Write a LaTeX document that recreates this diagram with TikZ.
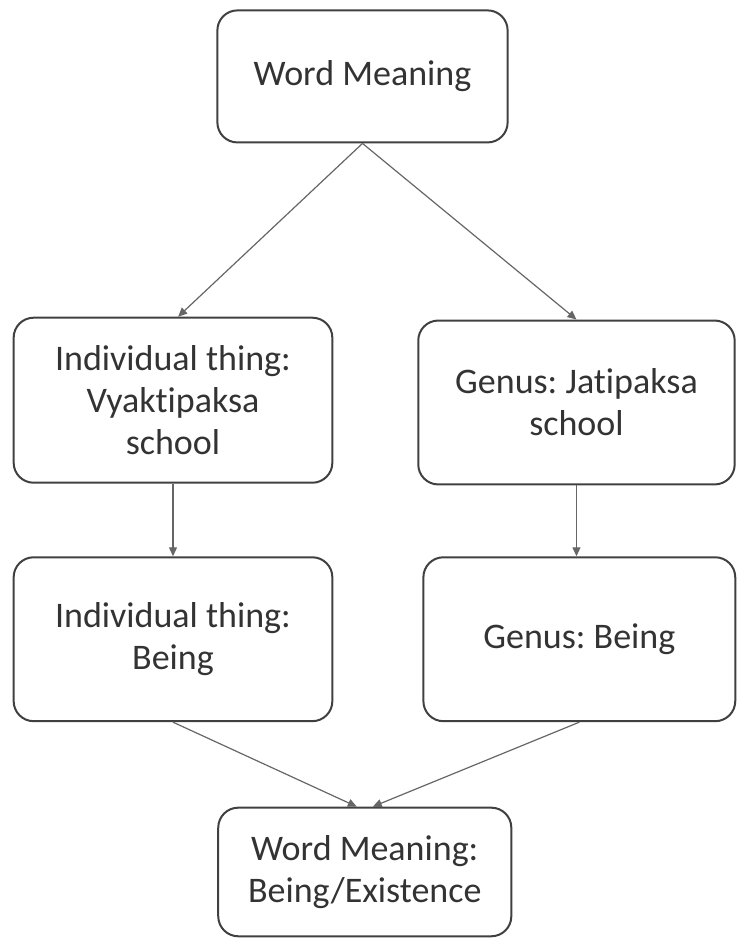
\documentclass[tikz,border=0pt]{standalone}
\usepackage{fontspec}
\setmainfont{Carlito}[Ligatures={NoCommon}]
\usepackage{tikz}
\usetikzlibrary{arrows.meta, positioning}
\frenchspacing

\begin{document}
\begin{tikzpicture}[
        box/.style={draw=black!75, line width=1pt, rounded corners=10pt, align=center,
            text=black!80, font=\fontsize{18}{21}\selectfont, inner sep=0pt},
        link/.style={draw=black!60, line width=0.6pt, -{Triangle[length=4.5pt, width=4pt]}}
    ]
    \useasboundingbox (0, 0) rectangle (12.934, 16.483);
    \node[box, minimum width=5.1cm, minimum height=2.32cm] (wm) at (6.37, 15.14) {Word Meaning};
    \node[box, minimum width=5.6cm, minimum height=2.9cm] (ind) at (3.04, 9.45) {Individual thing:\\Vyaktipaksa\\school};
    \node[box, minimum width=5.56cm, minimum height=2.88cm] (gen) at (10.13, 9.41) {Genus: Jatipaksa\\school};
    \node[box, minimum width=5.6cm, minimum height=2.88cm] (indb) at (3.04, 5.25) {Individual thing:\\Being};
    \node[box, minimum width=5.48cm, minimum height=2.88cm] (genb) at (10.18, 5.25) {Genus: Being};
    \node[box, minimum width=5.15cm, minimum height=2.26cm] (wmb) at (6.41, 1.16) {Word Meaning:\\Being/Existence};
    \draw
    (wm.south) edge[link] ([xshift=0.09cm]ind.north)
    (wm.south) edge[link] (gen.north)
    (ind.south) edge[link] (indb.north)
    (gen.south) edge[link] (gen.south |- genb.north)
    (indb.south) edge[link] ([xshift=-0.14cm]wmb.north)
    (genb.south) edge[link] ([xshift=0.14cm]wmb.north);
\end{tikzpicture}
\end{document}
